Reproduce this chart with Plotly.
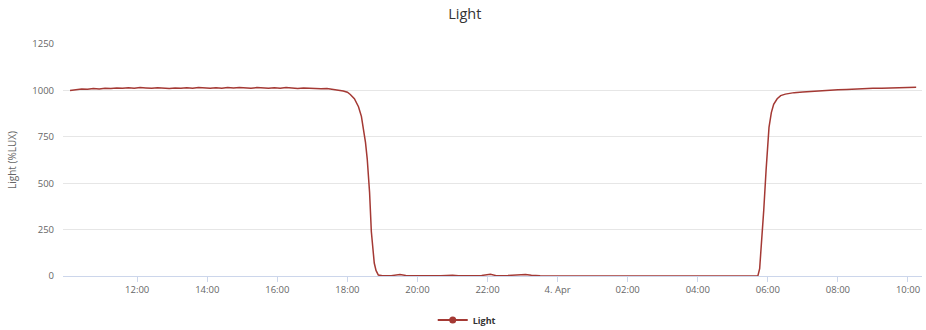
import plotly.graph_objects as go

series_name = "Light"
chart_title = "Light"
y_title = "Light (%LUX)"

times = [
    "2024-04-03 10:05", "2024-04-03 10:15", "2024-04-03 10:25", "2024-04-03 10:35", "2024-04-03 10:45",
    "2024-04-03 10:55", "2024-04-03 11:05", "2024-04-03 11:15", "2024-04-03 11:25", "2024-04-03 11:35",
    "2024-04-03 11:45", "2024-04-03 11:55", "2024-04-03 12:05", "2024-04-03 12:15", "2024-04-03 12:25",
    "2024-04-03 12:35", "2024-04-03 12:45", "2024-04-03 12:55", "2024-04-03 13:05", "2024-04-03 13:15",
    "2024-04-03 13:25", "2024-04-03 13:35", "2024-04-03 13:45", "2024-04-03 13:55", "2024-04-03 14:05",
    "2024-04-03 14:15", "2024-04-03 14:25", "2024-04-03 14:35", "2024-04-03 14:45", "2024-04-03 14:55",
    "2024-04-03 15:05", "2024-04-03 15:15", "2024-04-03 15:25", "2024-04-03 15:35", "2024-04-03 15:45",
    "2024-04-03 15:55", "2024-04-03 16:05", "2024-04-03 16:15", "2024-04-03 16:25", "2024-04-03 16:35",
    "2024-04-03 16:45", "2024-04-03 16:55", "2024-04-03 17:05", "2024-04-03 17:15", "2024-04-03 17:25",
    "2024-04-03 17:35", "2024-04-03 17:45", "2024-04-03 17:53", "2024-04-03 18:00", "2024-04-03 18:05",
    "2024-04-03 18:12", "2024-04-03 18:19", "2024-04-03 18:24", "2024-04-03 18:27", "2024-04-03 18:31",
    "2024-04-03 18:34", "2024-04-03 18:38", "2024-04-03 18:41", "2024-04-03 18:44", "2024-04-03 18:46",
    "2024-04-03 18:49", "2024-04-03 18:53", "2024-04-03 19:00", "2024-04-03 19:15", "2024-04-03 19:30",
    "2024-04-03 19:40", "2024-04-03 20:00", "2024-04-03 20:20", "2024-04-03 20:40", "2024-04-03 21:00",
    "2024-04-03 21:10", "2024-04-03 21:30", "2024-04-03 21:50", "2024-04-03 22:05", "2024-04-03 22:15",
    "2024-04-03 22:35", "2024-04-03 22:50", "2024-04-03 23:05", "2024-04-03 23:15", "2024-04-03 23:30",
    "2024-04-04 00:00", "2024-04-04 01:00", "2024-04-04 02:00", "2024-04-04 03:00", "2024-04-04 04:00",
    "2024-04-04 05:00", "2024-04-04 05:30", "2024-04-04 05:43", "2024-04-04 05:46", "2024-04-04 05:48",
    "2024-04-04 05:51", "2024-04-04 05:53", "2024-04-04 05:57", "2024-04-04 06:02", "2024-04-04 06:06",
    "2024-04-04 06:10", "2024-04-04 06:16", "2024-04-04 06:22", "2024-04-04 06:30", "2024-04-04 06:45",
    "2024-04-04 07:00", "2024-04-04 07:15", "2024-04-04 07:30", "2024-04-04 07:45", "2024-04-04 08:00",
    "2024-04-04 08:15", "2024-04-04 08:30", "2024-04-04 08:45", "2024-04-04 09:00", "2024-04-04 09:15",
    "2024-04-04 09:30", "2024-04-04 09:45", "2024-04-04 10:00", "2024-04-04 10:14",
]

lux = [
    1000, 1004, 1008, 1006, 1010,
    1008, 1012, 1010, 1013, 1011,
    1014, 1012, 1015, 1013, 1011,
    1014, 1012, 1010, 1013, 1011,
    1014, 1012, 1016, 1013, 1011,
    1014, 1012, 1015, 1013, 1016,
    1014, 1012, 1015, 1013, 1011,
    1014, 1012, 1015, 1012, 1010,
    1013, 1011, 1012, 1009, 1010,
    1006, 1003, 997, 990, 978,
    955, 912, 860, 805, 720,
    630, 450, 240, 130, 70,
    30, 5, 1, 2, 8,
    3, 2, 1, 2, 4,
    1, 2, 3, 9, 2,
    3, 6, 8, 4, 1,
    0, 0, 0, 0, 0,
    0, 0, 2, 40, 124,
    240, 355, 570, 801, 880,
    925, 955, 972, 980, 988,
    991, 995, 998, 1000, 1003,
    1005, 1008, 1009, 1011, 1012,
    1014, 1013, 1016, 1017,
]

tick_vals = [
    "2024-04-03 12:00", "2024-04-03 14:00", "2024-04-03 16:00", "2024-04-03 18:00",
    "2024-04-03 20:00", "2024-04-03 22:00", "2024-04-04 00:00", "2024-04-04 02:00",
    "2024-04-04 04:00", "2024-04-04 06:00", "2024-04-04 08:00", "2024-04-04 10:00",
]
tick_text = ["12:00", "14:00", "16:00", "18:00", "20:00", "22:00", "4. Apr",
             "02:00", "04:00", "06:00", "08:00", "10:00"]
y_ticks = [0, 250, 500, 750, 1000, 1250]

line_color = "#a43934"
font_family = "Open Sans, DejaVu Sans, sans-serif"

fig = go.Figure()
fig.add_trace(go.Scatter(
    x=times, y=lux, mode="lines", name=series_name, showlegend=False,
    line=dict(color=line_color, width=1.5),
))
fig.add_trace(go.Scatter(
    x=[None], y=[None], mode="lines+markers", name=series_name,
    line=dict(color=line_color, width=2), marker=dict(color=line_color, size=7),
    showlegend=True,
))

fig.update_layout(
    width=926, height=330,
    margin=dict(l=63, r=4, t=44, b=54, autoexpand=False),
    paper_bgcolor="white", plot_bgcolor="white",
    font=dict(family=font_family, size=9, color="#666666"),
    title=dict(text=chart_title, x=0.502, xanchor="center", xref="container",
               y=1 - 14 / 330, yanchor="middle", yref="container",
               font=dict(size=14.5, color="#333333")),
    showlegend=True,
    legend=dict(orientation="h", x=0.47, xanchor="center",
                y=1 - 320 / 330, yanchor="middle", yref="container",
                font=dict(size=9, color="#333333", weight="bold"), itemwidth=30),
)
fig.update_xaxes(
    type="date", automargin=False,
    range=["2024-04-03 09:53", "2024-04-04 10:24"],
    tickvals=tick_vals, ticktext=tick_text,
    showgrid=False, showline=True, linecolor="#ccd6eb", linewidth=1,
    ticks="outside", ticklen=5, tickcolor="#ccd6eb",
    tickfont=dict(size=9.5, color="#666666"),
    zeroline=False,
)
fig.update_yaxes(
    range=[0, 1250], tickvals=y_ticks, automargin=False,
    showgrid=True, gridcolor="#e6e6e6", gridwidth=1,
    zeroline=False, showline=False, ticks="", ticklabelstandoff=8,
    tickfont=dict(size=9.5, color="#666666"),
    title=dict(text=y_title, font=dict(size=10, color="#666666"), standoff=13),
)

fig.write_html("out.html", config={"displayModeBar": False},
               post_script="document.body.style.margin='0';")
